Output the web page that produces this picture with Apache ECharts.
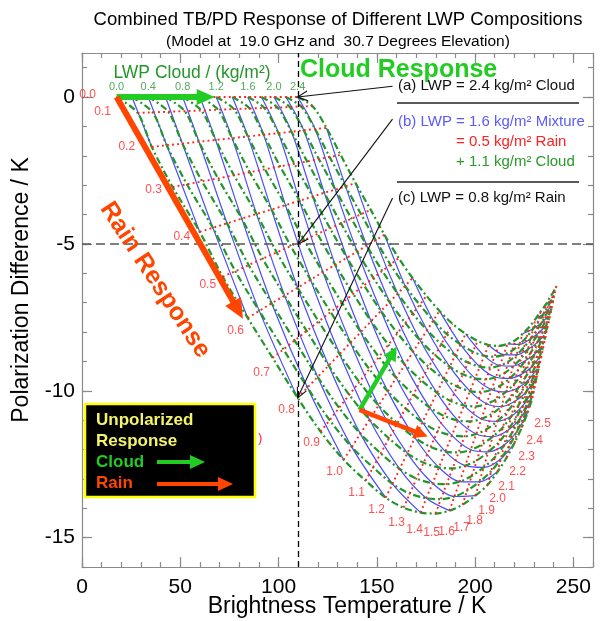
<!DOCTYPE html>
<html>
<head>
<meta charset="utf-8">
<script src="https://cdn.jsdelivr.net/npm/echarts@6/dist/echarts.min.js"></script>
<style>
  html, body { margin: 0; padding: 0; background: #fff; }
  #chart { width: 602px; height: 621px; }
</style>
</head>
<body>
<div id="chart"></div>
<script>
//--------------------- Data ---------------------------//
// rain LWP of each red dotted line, cloud LWP of each green dash-dot line, total LWP of each blue line
const rainLevels = [0.0, 0.1, 0.2, 0.3, 0.4, 0.5, 0.6, 0.7, 0.8, 0.9, 1.0, 1.1, 1.2,
  1.3, 1.4, 1.5, 1.6, 1.7, 1.8, 1.9, 2.0, 2.1, 2.2, 2.3, 2.4, 2.5];
const cloudLevels = [0.0, 0.2, 0.4, 0.6, 0.8, 1.0, 1.2, 1.4, 1.6, 1.8, 2.0, 2.2, 2.4];
const totalLevels = [0.2, 0.4, 0.6, 0.8, 1.0, 1.2, 1.4, 1.6, 1.8, 2.0, 2.2, 2.4,
  2.6, 2.8, 3.0, 3.2, 3.4, 3.6, 3.8, 4.0, 4.2, 4.4, 4.6, 4.8];

// Brightness temperature (K), one row per rain level, one column per cloud level
const tbGrid = [
  [17.6, 25.4, 33.7, 42.5, 51.2, 60.0, 68.3, 76.5, 84.4, 91.3, 97.7, 103.7, 109.7],
  [28.3, 35.9, 43.9, 52.3, 60.8, 69.2, 77.3, 85.3, 92.8, 99.5, 105.7, 111.5, 117.3],
  [35.5, 43.1, 51.1, 59.5, 68.0, 76.4, 84.4, 92.4, 100.0, 106.6, 112.8, 118.6, 124.4],
  [46.1, 53.4, 61.1, 69.2, 77.3, 85.4, 93.1, 100.8, 108.1, 114.5, 120.5, 126.0, 131.6],
  [59.9, 66.6, 73.8, 81.3, 88.8, 96.4, 103.5, 110.7, 117.4, 123.3, 128.9, 134.1, 139.2],
  [71.6, 78.0, 84.8, 91.9, 99.1, 106.2, 113.0, 119.8, 126.2, 131.8, 137.1, 142.0, 146.9],
  [84.3, 90.2, 96.5, 103.1, 109.7, 116.3, 122.6, 128.8, 134.8, 140.0, 144.9, 149.4, 153.9],
  [97.0, 102.5, 108.2, 114.3, 120.4, 126.5, 132.3, 138.0, 143.5, 148.3, 152.8, 156.9, 161.1],
  [109.7, 114.7, 119.9, 125.5, 131.1, 136.6, 141.9, 147.1, 152.1, 156.5, 160.6, 164.4, 168.2],
  [121.4, 126.0, 130.8, 136.0, 141.1, 146.2, 151.1, 155.9, 160.5, 164.5, 168.3, 171.8, 175.3],
  [133.1, 137.3, 141.6, 146.3, 150.9, 155.6, 159.9, 164.3, 168.5, 172.1, 175.6, 178.7, 181.9],
  [144.3, 148.1, 152.0, 156.2, 160.4, 164.6, 168.6, 172.6, 176.4, 179.7, 182.8, 185.6, 188.5],
  [154.5, 158.0, 161.6, 165.5, 169.4, 173.2, 176.9, 180.6, 184.0, 187.1, 189.9, 192.6, 195.2],
  [163.6, 166.8, 170.2, 173.8, 177.4, 180.9, 184.3, 187.7, 190.9, 193.8, 196.4, 198.9, 201.3],
  [172.3, 175.2, 178.4, 181.6, 184.9, 188.2, 191.3, 194.4, 197.4, 200.0, 202.4, 204.7, 206.9],
  [179.9, 182.6, 185.5, 188.6, 191.6, 194.7, 197.6, 200.4, 203.2, 205.6, 207.8, 209.9, 212.0],
  [187.0, 189.5, 192.2, 195.0, 197.8, 200.6, 203.2, 205.9, 208.4, 210.6, 212.7, 214.6, 216.5],
  [193.6, 195.9, 198.3, 200.9, 203.5, 206.0, 208.5, 210.9, 213.2, 215.2, 217.1, 218.9, 220.6],
  [200.2, 202.2, 204.4, 206.7, 209.0, 211.2, 213.4, 215.6, 217.6, 219.4, 221.1, 222.6, 224.2],
  [206.4, 208.2, 210.1, 212.2, 214.2, 216.2, 218.1, 220.0, 221.8, 223.4, 224.9, 226.3, 227.7],
  [211.4, 213.1, 214.8, 216.6, 218.5, 220.3, 222.1, 223.8, 225.5, 226.9, 228.3, 229.5, 230.8],
  [216.0, 217.5, 219.0, 220.7, 222.3, 224.0, 225.5, 227.1, 228.5, 229.8, 231.1, 232.2, 233.3],
  [220.1, 221.4, 222.9, 224.4, 225.9, 227.4, 228.8, 230.2, 231.6, 232.7, 233.9, 234.9, 235.9],
  [223.7, 224.9, 226.2, 227.5, 228.9, 230.2, 231.5, 232.8, 234.0, 235.1, 236.1, 237.0, 237.9],
  [226.7, 227.8, 229.0, 230.3, 231.5, 232.8, 234.0, 235.1, 236.3, 237.3, 238.2, 239.0, 239.9],
  [229.2, 230.2, 231.3, 232.5, 233.7, 234.8, 235.9, 237.0, 238.1, 239.0, 239.8, 240.6, 241.4]
];

// Polarization difference (K), same layout as tbGrid
const pdGrid = [
  [0, 0, 0, 0, 0, 0, 0, 0, 0, 0, 0, 0, 0],
  [-0.54, -0.52, -0.50, -0.48, -0.46, -0.43, -0.41, -0.39, -0.37, -0.36, -0.34, -0.32, -0.31],
  [-1.70, -1.64, -1.59, -1.52, -1.46, -1.40, -1.34, -1.28, -1.23, -1.18, -1.13, -1.09, -1.05],
  [-3.06, -2.97, -2.87, -2.77, -2.66, -2.56, -2.46, -2.36, -2.27, -2.19, -2.11, -2.04, -1.97],
  [-4.59, -4.45, -4.30, -4.14, -3.98, -3.83, -3.68, -3.53, -3.39, -3.26, -3.15, -3.04, -2.93],
  [-6.12, -5.93, -5.72, -5.50, -5.29, -5.07, -4.87, -4.66, -4.47, -4.30, -4.14, -3.99, -3.84],
  [-7.52, -7.28, -7.02, -6.76, -6.49, -6.22, -5.96, -5.71, -5.47, -5.26, -5.06, -4.87, -4.69],
  [-8.88, -8.59, -8.29, -7.96, -7.64, -7.32, -7.01, -6.70, -6.41, -6.16, -5.92, -5.70, -5.48],
  [-10.24, -9.89, -9.53, -9.14, -8.75, -8.36, -8.00, -7.63, -7.28, -6.98, -6.69, -6.43, -6.16],
  [-11.39, -11.00, -10.58, -10.14, -9.70, -9.26, -8.85, -8.43, -8.04, -7.69, -7.37, -7.07, -6.77],
  [-12.35, -11.92, -11.46, -10.98, -10.50, -10.02, -9.56, -9.11, -8.67, -8.29, -7.94, -7.61, -7.28],
  [-13.06, -12.61, -12.13, -11.62, -11.11, -10.60, -10.12, -9.64, -9.19, -8.79, -8.41, -8.07, -7.72],
  [-13.64, -13.17, -12.66, -12.13, -11.60, -11.07, -10.57, -10.07, -9.59, -9.18, -8.79, -8.42, -8.06],
  [-13.98, -13.50, -12.99, -12.45, -11.91, -11.37, -10.86, -10.35, -9.86, -9.44, -9.04, -8.67, -8.30],
  [-14.15, -13.66, -13.15, -12.61, -12.07, -11.52, -11.01, -10.50, -10.01, -9.58, -9.18, -8.81, -8.44],
  [-14.18, -13.69, -13.18, -12.64, -12.10, -11.55, -11.04, -10.53, -10.04, -9.61, -9.21, -8.84, -8.47],
  [-14.08, -13.60, -13.09, -12.55, -12.01, -11.47, -10.96, -10.44, -9.96, -9.54, -9.14, -8.77, -8.40],
  [-13.88, -13.40, -12.90, -12.37, -11.83, -11.30, -10.79, -10.29, -9.81, -9.39, -9.00, -8.63, -8.27],
  [-13.57, -13.10, -12.61, -12.08, -11.56, -11.04, -10.54, -10.04, -9.58, -9.16, -8.78, -8.42, -8.06],
  [-13.20, -12.74, -12.26, -11.75, -11.24, -10.73, -10.24, -9.76, -9.30, -8.90, -8.52, -8.17, -7.82],
  [-12.76, -12.32, -11.85, -11.35, -10.86, -10.36, -9.89, -9.43, -8.98, -8.59, -8.23, -7.89, -7.55],
  [-12.28, -11.86, -11.41, -10.94, -10.47, -9.99, -9.55, -9.10, -8.68, -8.30, -7.96, -7.63, -7.31],
  [-11.77, -11.37, -10.95, -10.50, -10.05, -9.61, -9.19, -8.76, -8.36, -8.01, -7.68, -7.38, -7.07],
  [-11.26, -10.88, -10.49, -10.07, -9.65, -9.23, -8.83, -8.43, -8.06, -7.72, -7.41, -7.13, -6.84],
  [-10.75, -10.40, -10.03, -9.64, -9.25, -8.85, -8.48, -8.11, -7.76, -7.45, -7.17, -6.90, -6.63],
  [-10.24, -9.92, -9.57, -9.21, -8.85, -8.49, -8.14, -7.80, -7.48, -7.19, -6.92, -6.68, -6.43]
];

// cloud levels that get a label above the top row
const cloudLabelLevels = ['0.0', '0.4', '0.8', '1.2', '1.6', '2.0', '2.4'];

// reference lines
const refTB = 110;
const refPD = -5;

// annotation arrows: [tbFrom, pdFrom, tbTo, pdTo]
const cloudArrow = [[17.6, 0, 67.5, 0]];
const rainArrow = [[17.6, 0, 81.9, -7.55]];
const unpolCloudArrow = [[141.2, -10.65, 160.1, -8.50]];
const unpolRainArrow = [[141.2, -10.65, 175.9, -11.56]];
const pointerArrows = [
  [158.0, 0.37, 109.7, 0],
  [158.0, -0.75, refTB, refPD],
  [158.0, -3.44, 109.7, -10.24]
];

// axis ticks
const xMajor = [0, 50, 100, 150, 200, 250];
const xMinor = [0, 10, 20, 30, 40, 50, 60, 70, 80, 90, 100, 110, 120, 130, 140, 150,
  160, 170, 180, 190, 200, 210, 220, 230, 240, 250, 260];
const yMajor = [-15, -10, -5, 0];
const yMinor = [-16, -15, -14, -13, -12, -11, -10, -9, -8, -7, -6, -5, -4, -3, -2, -1, 0, 1];

//--------------------- Styles ---------------------------//
const FONT = '"Liberation Sans", Arial, Helvetica, sans-serif';
const AXIS = '#8a8a8a';
const RED = '#ff2424';
const GREEN = '#23962a';
const BLUE = '#4b4bff';
const BRIGHT_GREEN = '#22cc22';
const ORANGE = '#ff4500';

// pixel offsets of rain labels from their line start
const rainLabelOffsets = [[-29, -2], [-35, -1], [-25, 0], [-19, 3], [-18, 5], [-15, 8], [-12, 13],
  [-11, 15], [-11, 12], [-9, 11], [-9, 12], [-9, 12], [-9, 12], [-7, 15], [-6, 17], [-4, 19],
  [-3, 21], [-1, 23], [-1, 25], [-1, 26], [0, 27], [0, 29], [3, 29], [5, 29], [7, 28], [10, 26]];

//--------------------- Helpers ---------------------------//
function arrowSeries(list, color, width, headLen, headHalf, open) {
  return {
    type: 'custom', silent: true, animation: false, z: 10,
    xAxisIndex: 0, yAxisIndex: 0,
    data: list,
    renderItem: (params, api) => {
      const p1 = api.coord([api.value(0), api.value(1)]);
      const p2 = api.coord([api.value(2), api.value(3)]);
      const ang = Math.atan2(p2[1] - p1[1], p2[0] - p1[0]);
      const ux = Math.cos(ang), uy = Math.sin(ang);
      const bx = p2[0] - ux * headLen, by = p2[1] - uy * headLen;
      const l = [bx - uy * headHalf, by + ux * headHalf];
      const r = [bx + uy * headHalf, by - ux * headHalf];
      const children = [];
      if (open) {
        children.push({ type: 'polyline', shape: { points: [p1, p2] }, style: { stroke: color, lineWidth: width, fill: null } });
        children.push({ type: 'polyline', shape: { points: [l, p2, r] }, style: { stroke: color, lineWidth: width, fill: null } });
      } else {
        children.push({ type: 'polyline', shape: { points: [p1, [bx + ux, by + uy]] }, style: { stroke: color, lineWidth: width, fill: null } });
        children.push({ type: 'polygon', shape: { points: [l, p2, r] }, style: { fill: color } });
      }
      return { type: 'group', children };
    }
  };
}

function text(str, x, y, size, color, extra = {}) {
  const align = extra.align || 'left';
  return {
    type: 'text', x: x, y: y, rotation: extra.rotation || 0, z: 100, silent: true,
    style: {
      text: str, x: 0, y: 0, fill: color,
      font: (extra.bold ? 'bold ' : '') + size + 'px ' + FONT,
      align: align, verticalAlign: 'middle', textAlign: align, textVerticalAlign: 'middle'
    }
  };
}

function boxArrow(x1, x2, y, color) {
  return [
    { type: 'line', z: 101, shape: { x1: x1, y1: y, x2: x2 - 13, y2: y }, style: { stroke: color, lineWidth: 4 } },
    { type: 'polygon', z: 101, shape: { points: [[x2 - 15, y - 7], [x2, y], [x2 - 15, y + 7]] }, style: { fill: color } }
  ];
}

//--------------------- Series ---------------------------//
const series = [];

// constant total LWP (blue solid), through nodes where rain + cloud = total
totalLevels.forEach((t) => {
  const pts = [];
  rainLevels.forEach((r, i) => {
    const j = Math.round((t - r) / 0.2);
    if (i % 2 === 0 && j >= 0 && j < cloudLevels.length && Math.abs(cloudLevels[j] + r - t) < 1e-6) {
      pts.push([tbGrid[i][j], pdGrid[i][j]]);
    }
  });
  series.push({
    type: 'line', data: pts, symbol: 'none', smooth: 0.3, silent: true, animation: false, z: 2,
    lineStyle: { color: BLUE, width: 1.2 }
  });
});

// constant cloud LWP (green dash-dot)
cloudLevels.forEach((c, j) => {
  series.push({
    type: 'line', data: rainLevels.map((r, i) => [tbGrid[i][j], pdGrid[i][j]]),
    symbol: 'none', smooth: 0.3, silent: true, animation: false, z: 3,
    lineStyle: { color: GREEN, width: 2.2, type: [7, 3, 2, 3] }
  });
});

// constant rain LWP (red dotted)
rainLevels.forEach((r, i) => {
  const s = {
    type: 'line', data: cloudLevels.map((c, j) => [tbGrid[i][j], pdGrid[i][j]]),
    symbol: 'none', smooth: false, silent: true, animation: false, z: 4,
    lineStyle: { color: RED, width: 1.9, type: [1.9, 3.2] }
  };
  if (i === 0) {
    s.markLine = {
      silent: true, symbol: ['none', 'none'], animation: false, label: { show: false },
      data: [
        { xAxis: refTB, lineStyle: { color: '#000', width: 1.3, type: [6, 4] } },
        { yAxis: refPD, lineStyle: { color: '#555', width: 1.6, type: [9, 5] } }
      ]
    };
  }
  series.push(s);
});

// rain labels at the start of each red line
series.push({
  type: 'scatter', symbolSize: 0, silent: true, animation: false, z: 6,
  data: rainLevels.map((r, i) => ({
    value: [tbGrid[i][0], pdGrid[i][0]],
    label: { offset: rainLabelOffsets[i] }
  })),
  label: {
    show: true, position: 'inside', color: RED, fontSize: 12, fontFamily: FONT,
    formatter: (p) => rainLevels[p.dataIndex].toFixed(1)
  }
});

// cloud labels above the top row
series.push({
  type: 'scatter', symbolSize: 0, silent: true, animation: false, z: 6,
  data: cloudLabelLevels.map((lab) => {
    const j = cloudLevels.findIndex((c) => c.toFixed(1) === lab);
    return { value: [tbGrid[0][j], pdGrid[0][j]], name: lab };
  }),
  label: {
    show: true, position: 'inside', offset: [0, -10], color: GREEN, fontSize: 11, fontFamily: FONT,
    formatter: (p) => p.name
  }
});

series.push(arrowSeries(pointerArrows, '#111', 1.1, 10, 5, true));
series.push(arrowSeries(cloudArrow, BRIGHT_GREEN, 6, 18, 8, false));
series.push(arrowSeries(rainArrow, ORANGE, 6, 20, 9, false));
series.push(arrowSeries(unpolCloudArrow, BRIGHT_GREEN, 4.5, 14, 7, false));
series.push(arrowSeries(unpolRainArrow, ORANGE, 4.5, 14, 7, false));

//--------------------- Axes ---------------------------//
function valueAxis(pos, min, max, ticks, len, labels, margin) {
  return {
    type: 'value', position: pos, min: min, max: max,
    axisLine: { show: len === 10, onZero: false, lineStyle: { color: AXIS, width: 1.2 } },
    axisTick: { show: true, inside: true, length: len, customValues: ticks, lineStyle: { color: AXIS, width: 1.2 } },
    axisLabel: labels
      ? { show: true, customValues: labels, color: '#000', fontSize: 21, fontFamily: FONT, margin: margin }
      : { show: false },
    splitLine: { show: false },
    minorTick: { show: false }
  };
}

const option = {
  backgroundColor: '#fff',
  animation: false,
  grid: { left: 82, right: 9, top: 53, bottom: 54, containLabel: false, outerBoundsMode: 'none' },
  xAxis: [
    valueAxis('bottom', 0, 260, xMajor, 10, xMajor, 10),
    valueAxis('bottom', 0, 260, xMinor, 5, null),
    valueAxis('top', 0, 260, xMajor, 10, null),
    valueAxis('top', 0, 260, xMinor, 5, null)
  ],
  yAxis: [
    valueAxis('left', -16, 1.5, yMajor, 10, yMajor, 7),
    valueAxis('left', -16, 1.5, yMinor, 5, null),
    valueAxis('right', -16, 1.5, yMajor, 10, null),
    valueAxis('right', -16, 1.5, yMinor, 5, null)
  ],
  series: series,
  graphic: [
    text('Combined TB/PD Response of Different LWP Compositions', 338, 20, 18.5, '#000', { align: 'center' }),
    text('(Model at  19.0 GHz and  30.7 Degrees Elevation)', 338, 42, 15.5, '#000', { align: 'center' }),
    text('Brightness Temperature / K', 347, 607, 23, '#000', { align: 'center' }),
    text('Polarization Difference / K', 22, 290, 23, '#000', { align: 'center', rotation: Math.PI / 2 }),
    text('LWP Cloud / (kg/m\u00b2)', 192, 73, 17.5, GREEN, { align: 'center' }),
    text('Cloud Response', 300, 70, 25, BRIGHT_GREEN, { bold: true }),
    text('Rain Response', 155, 280, 25, ORANGE, { bold: true, align: 'center', rotation: -0.99 }),
    text('(a) LWP = 2.4 kg/m\u00b2 Cloud', 398, 86, 15, '#111'),
    { type: 'line', z: 100, shape: { x1: 397, y1: 103, x2: 579, y2: 103 }, style: { stroke: '#222', lineWidth: 1.5 } },
    text('(b) LWP = 1.6 kg/m\u00b2 Mixture', 398, 122, 15, '#5a5aff'),
    text('= 0.5 kg/m\u00b2 Rain', 456, 142, 15, '#ff2020'),
    text('+ 1.1 kg/m\u00b2 Cloud', 456, 162, 15, '#2a9a2a'),
    { type: 'line', z: 100, shape: { x1: 397, y1: 182, x2: 579, y2: 182 }, style: { stroke: '#222', lineWidth: 1.5 } },
    text('(c) LWP = 0.8 kg/m\u00b2 Rain', 398, 198, 15, '#111'),
    text(')', 258, 438, 13, RED),
    { type: 'rect', z: 100, shape: { x: 85, y: 404, width: 170, height: 93 }, style: { fill: '#000', stroke: '#ffff00', lineWidth: 2.5 } },
    text('Unpolarized', 96, 420, 17, '#f4f46a', { bold: true }),
    text('Response', 96, 441, 17, '#f4f46a', { bold: true }),
    text('Cloud', 96, 462, 17, BRIGHT_GREEN, { bold: true }),
    text('Rain', 96, 483, 17, ORANGE, { bold: true }),
    ...boxArrow(157, 205, 462, BRIGHT_GREEN),
    ...boxArrow(157, 233, 484, ORANGE)
  ]
};

const chart = echarts.init(document.getElementById('chart'));
chart.setOption(option);
</script>
</body>
</html>
